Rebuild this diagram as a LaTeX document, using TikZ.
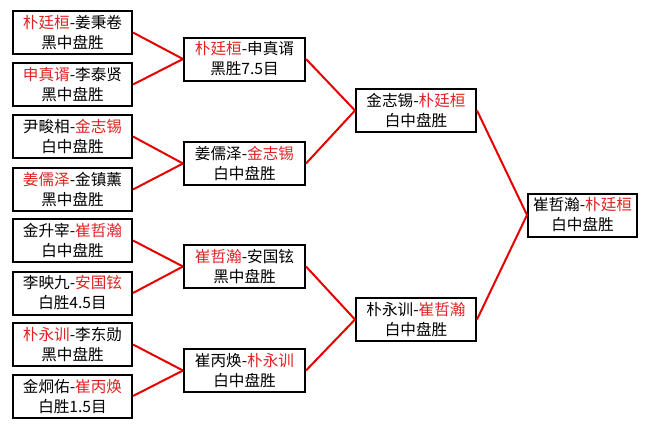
\documentclass[tikz,border=0pt]{standalone}
\usepackage{fontspec}
\setmainfont{Noto Sans CJK SC}
\definecolor{win}{RGB}{225,35,35}
\definecolor{conn}{RGB}{230,0,0}
\tikzset{
  px/.style={x=0.75pt,y=-0.75pt},
  game/.style={draw=black,line width=1.5pt,fill=white,align=center,inner sep=0pt,
    minimum height=43*0.75pt,font=\fontsize{11.7pt}{15pt}\selectfont},
  c1/.style={game,minimum width=119*0.75pt},
  c2/.style={game,minimum width=121*0.75pt},
  c3/.style={game,minimum width=120*0.75pt},
  c4/.style={game,minimum width=109*0.75pt},
  link/.style={draw=conn,line width=1.5pt}
}
\newcommand{\W}[1]{\textcolor{win}{#1}}
\begin{document}
\begin{tikzpicture}[px]
\useasboundingbox[fill=white] (0,0) rectangle (660,429);
% column 1
\node[c1] (a1) at (72.5,32.5) {\W{朴廷桓}-姜秉卷\\黑中盘胜};
\node[c1] (a2) at (72.5,84.5) {\W{申真谞}-李泰贤\\黑中盘胜};
\node[c1] (a3) at (72.5,136.5) {尹畯相-\W{金志锡}\\白中盘胜};
\node[c1] (a4) at (72.5,189.5) {\W{姜儒泽}-金镇薰\\黑中盘胜};
\node[c1] (a5) at (72.5,240.5) {金升宰-\W{崔哲瀚}\\白中盘胜};
\node[c1] (a6) at (72.5,293) {李映九-\W{安国铉}\\白胜4.5目};
\node[c1] (a7) at (72.5,344.5) {\W{朴永训}-李东勋\\黑中盘胜};
\node[c1] (a8) at (72.5,396) {金炯佑-\W{崔丙焕}\\白胜1.5目};
% column 2
\node[c2] (b1) at (244.5,59) {\W{朴廷桓}-申真谞\\黑胜7.5目};
\node[c2] (b2) at (244.5,163.5) {姜儒泽-\W{金志锡}\\白中盘胜};
\node[c2] (b3) at (244.5,266.5) {\W{崔哲瀚}-安国铉\\黑中盘胜};
\node[c2] (b4) at (244.5,370.5) {崔丙焕-\W{朴永训}\\白中盘胜};
% column 3
\node[c3] (d1) at (416,110.5) {金志锡-\W{朴廷桓}\\白中盘胜};
\node[c3] (d2) at (416,319.5) {朴永训-\W{崔哲瀚}\\白中盘胜};
% final
\node[c4] (f) at (582.5,215) {崔哲瀚-\W{朴廷桓}\\白中盘胜};
% connectors
\draw[link] (a1.east) -- (b1.west);
\draw[link] (a2.east) -- (b1.west);
\draw[link] (a3.east) -- (b2.west);
\draw[link] (a4.east) -- (b2.west);
\draw[link] (a5.east) -- (b3.west);
\draw[link] (a6.east) -- (b3.west);
\draw[link] (a7.east) -- (b4.west);
\draw[link] (a8.east) -- (b4.west);
\draw[link] (b1.east) -- (d1.west);
\draw[link] (b2.east) -- (d1.west);
\draw[link] (b3.east) -- (d2.west);
\draw[link] (b4.east) -- (d2.west);
\draw[link] (d1.east) -- (f.west);
\draw[link] (d2.east) -- (f.west);
\end{tikzpicture}
\end{document}
